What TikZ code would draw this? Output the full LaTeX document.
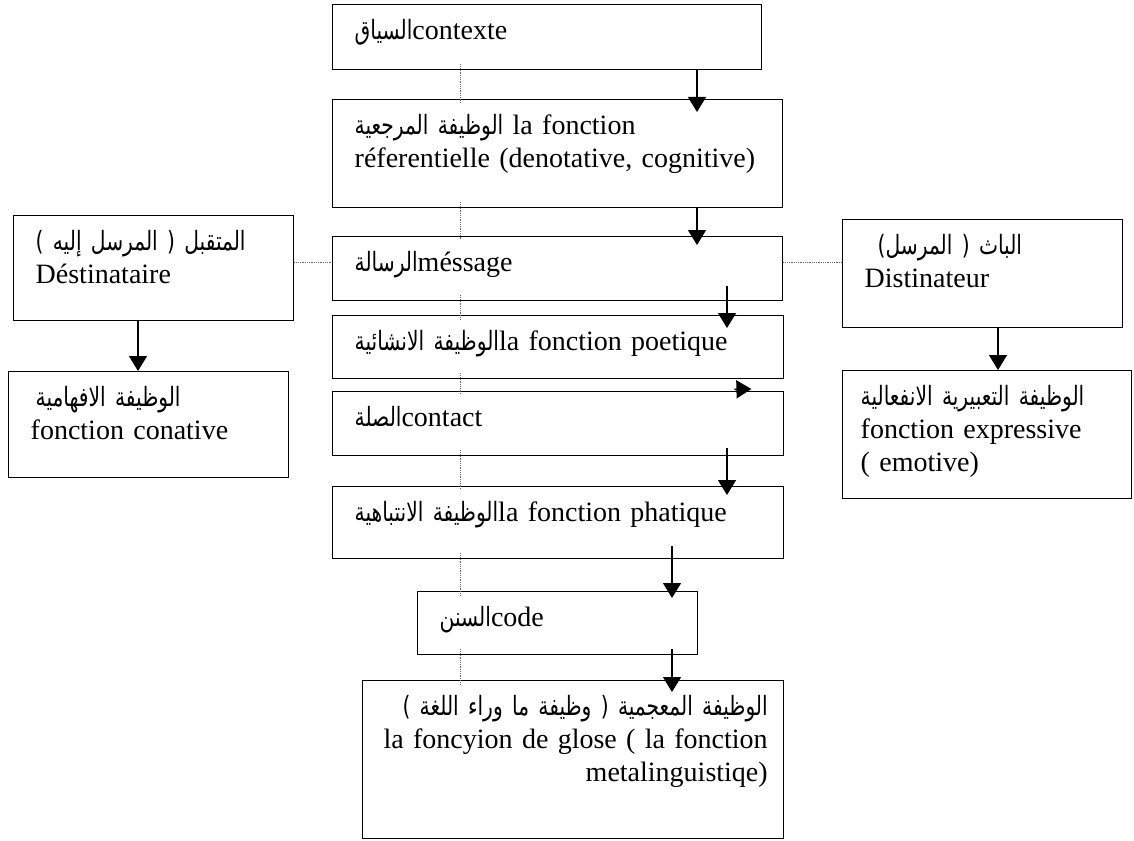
\documentclass[tikz,border=0pt]{standalone}
\usepackage{fontspec}
\setmainfont{Liberation Serif}
\newfontfamily\arabicfont[Script=Arabic,Scale=0.95,FakeStretch=0.76]{DejaVu Sans}
\TeXXeTstate=1
\usetikzlibrary{arrows.meta}
\tikzstyle{fbox}=[draw, line width=1.4pt, anchor=north west, align=left, inner xsep=22pt, inner ysep=0pt, text height=35pt, font=\fontsize{28pt}{33pt}\selectfont]
\tikzstyle{link}=[line width=1.4pt, -{Triangle[length=15pt,width=18pt]}]
\tikzstyle{trace}=[densely dotted, line width=0.8pt, black!60]
\newcommand{\arab}[1]{{\arabicfont\beginR #1\endR}}

\begin{document}
\begin{tikzpicture}[x=1pt, y=-1pt]
	\useasboundingbox (0,0) rectangle (1134,840);
	% columns of the connectors
	\coordinate (dl) at (460,0);
	\coordinate (ca) at (697,0);
	\coordinate (cb) at (727,0);
	\coordinate (cc) at (672,0);
	\coordinate (cd) at (138,0);
	\coordinate (ce) at (998,0);
	\coordinate (hl) at (0,262);
	% middle column
	\node[fbox, text width=385pt, text depth=30pt] (ctx) at (332,4) {\arab{السياق}contexte};
	\node[fbox, text width=406pt, text depth=73pt] (ref) at (332,99) {\arab{الوظيفة المرجعية} la fonction\\réferentielle (denotative, cognitive)};
	\node[fbox, text width=406pt, text depth=29pt] (msg) at (332,236) {\arab{الرسالة}méssage};
	\node[fbox, text width=407pt, text depth=28pt] (poe) at (332,315) {\arab{الوظيفة الانشائية}la fonction poetique};
	\node[fbox, text width=407pt, text depth=29pt] (cnt) at (332,391) {\arab{الصلة}contact};
	\node[fbox, text width=407pt, text depth=37pt] (pha) at (332,486) {\arab{الوظيفة الانتباهية}la fonction phatique};
	\node[fbox, text width=236pt, text depth=28pt] (cod) at (417,591) {\arab{السنن}code};
	\node[fbox, align=right, inner xsep=16pt, text width=389pt, text depth=123pt] (meta) at (362,680) {\arab{الوظيفة المعجمية ( وظيفة ما وراء اللغة )}\\la foncyion de glose ( la fonction\\metalinguistiqe)};
	% left column
	\node[fbox, text width=236pt, text depth=70pt] (dest) at (13,215) {\arab{المتقبل ( المرسل إليه )}\\Déstinataire};
	\node[fbox, text width=236pt, text depth=71pt] (conat) at (8,371) {\hspace*{5pt}\arab{الوظيفة الافهامية}\\fonction conative};
	% right column
	\node[fbox, text width=236pt, text depth=73pt] (dist) at (842,219) {\hspace*{13pt}\arab{الباث ( المرسل)}\\Distinateur};
	\node[fbox, inner xsep=18pt, text width=253pt, text depth=93pt] (expr) at (842,370) {\mbox{\arab{الوظيفة التعبيرية الانفعالية}}\\fonction expressive\\( emotive)};

	\draw[link, shorten >=-13pt] (ctx.south -| ca) -- (ref.north -| ca);
	\draw[link, shorten >=-9pt] (ref.south -| ca) -- (msg.north -| ca);
	\draw[link, shorten <=-15pt, shorten >=-13pt] (msg.south -| cb) -- (poe.north -| cb);
	\draw[link] ([xshift=-50pt,yshift=-10pt]poe.south east) -- ([xshift=-33pt,yshift=2pt]cnt.north east);
	\draw[link, shorten <=-8pt, shorten >=-9pt] (cnt.south -| cb) -- (pha.north -| cb);
	\draw[link, shorten <=-13pt, shorten >=-7pt] (pha.south -| cc) -- (cod.north -| cc);
	\draw[link, shorten <=-6pt, shorten >=-12pt] (cod.south -| cc) -- (meta.north -| cc);
	\draw[link] (dest.south -| cd) -- (conat.north -| cd);
	\draw[link] (dist.south -| ce) -- (expr.north -| ce);

	\draw[trace] (dest.east |- hl) -- (msg.west |- hl);
	\draw[trace] (msg.east |- hl) -- (dist.west |- hl);
	\foreach \a/\b in {ctx/ref, ref/msg, msg/poe, poe/cnt, cnt/pha, pha/cod, cod/meta}
		\draw[trace, shorten <=-6pt, shorten >=-4pt] (\a.south -| dl) -- (\b.north -| dl);
\end{tikzpicture}
\end{document}
